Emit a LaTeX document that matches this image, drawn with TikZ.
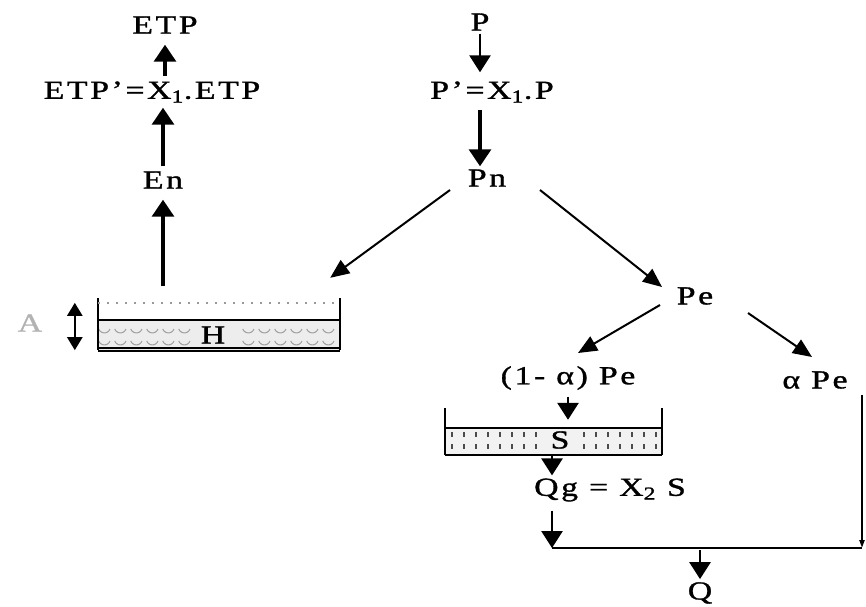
\documentclass[tikz,border=0pt]{standalone}
\usepackage{fontspec}
\setmainfont{Liberation Serif}[FakeStretch=1.3,LetterSpace=10,FakeBold=1.2]
\usetikzlibrary{arrows.meta,calc}

\begin{document}
\begin{tikzpicture}[x=1pt,y=-1pt,
  lbl/.style={font=\fontsize{26}{30}\selectfont, inner sep=3pt},
  vflow/.style={-{Triangle[length=17pt,width=22pt]}, line width=3.2pt},
  sflow/.style={-{Triangle[length=17pt,width=21pt]}, line width=2.8pt},
  dflow/.style={-{Triangle[length=19pt,width=16pt]}, line width=2pt},
  wall/.style={line width=1.4pt},
  bed/.style={line width=2pt},
  wave/.style={gray!75, line width=1pt},
  grain/.style={black!70, line width=1.5pt}]
\useasboundingbox (0,0) rectangle (866,606);

% ---- labels ----
\node[lbl] (ETP)  at (165,25)  {ETP};
\node[lbl] (ETPp) at (152,92)  {ETP'=X\textsubscript{1}.ETP};
\node[lbl] (En)   at (163,180) {En};
\node[lbl] (P)    at (480,22)  {P};
\node[lbl] (Pp)   at (492,92)  {P'=X\textsubscript{1}.P};
\node[lbl] (Pn)   at (487,178) {Pn};
\node[lbl] (Pe)   at (695,296) {Pe};
\node[lbl] (PeA)  at (568,378) {(1- α) Pe};
\node[lbl] (aPe)  at (815,380) {α Pe};
\node[lbl] (Qg)   at (610,490) {Qg = X\textsubscript{2} S};
\node[lbl] (Q)    at (700,593) {Q};
\node[lbl, text=gray!60] (A) at (30,323) {A};

% ---- surface store H ----
\node[inner sep=0pt, minimum width=242pt, minimum height=52pt] (Htank) at (219,324) {};
\fill[gray!14] (98,320) rectangle (340,350);
\foreach \yy in {329,341}
  \foreach \xx in {104,120,...,335}{
    \ifdim\xx pt<190pt \draw[wave] (\xx+6,\yy) arc (20:160:6);\fi
    \ifdim\xx pt>236pt \draw[wave] (\xx+6,\yy) arc (20:160:6);\fi
  }
\draw[wall] (98,298) -- (98,350) (340,298) -- (340,350);
\draw[dash pattern=on 2pt off 7pt, line width=1.5pt, gray!80] (98,303) -- (340,303);
\draw[bed] (98,320) -- (340,320);
\draw[line width=1.3pt] (98,348) -- (340,348) (98,351) -- (340,351);
\node[font=\fontsize{26}{30}\selectfont] (Hlbl) at (213,335) {H};
\draw[{Triangle[length=13pt,width=15pt]}-{Triangle[length=13pt,width=15pt]}, line width=2.4pt]
  ($(Htank.north west)+(-23,5)$) -- ($(Htank.south west)+(-23,0)$);

% ---- groundwater store S ----
\node[inner sep=0pt, minimum width=217pt, minimum height=27pt] (Stank) at (553.5,441.5) {};
\fill[gray!10] (445,428) rectangle (662,455);
\foreach \yy in {432,444}
  \foreach \xx in {452,464,...,657}{
    \ifdim\xx pt<538pt \draw[grain] (\xx,\yy) -- (\xx,\yy+5);\fi
    \ifdim\xx pt>582pt \draw[grain] (\xx,\yy) -- (\xx,\yy+5);\fi
  }
\draw[wall] (445,408) -- (445,455) (662,408) -- (662,455);
\draw[bed] (445,428) -- (662,428);
\draw[line width=1.8pt] (445,455) -- (662,455);
\node[lbl] (Slbl) at (560,440) {S};

% ---- connectors ----
\draw[vflow, shorten <=2pt, shorten >=8pt] (ETPp.north -| ETP) -- (ETP.south);
\draw[vflow, shorten <=2pt, shorten >=2pt] (En.north) -- (ETPp.south -| En);
\draw[vflow, shorten <=12pt, shorten >=8pt] (Htank.north -| En) -- (En.south);
\draw[sflow, shorten >=6pt] (P.south) -- (Pp.north -| P);
\draw[vflow, shorten <=4pt] (Pp.south -| P) -- (Pn.north -| P);
\draw[dflow] ($(Pn.center)+(-37,12)$) -- ($(Htank.north east)+(-10,-20)$);
\draw[dflow] ($(Pn.center)+(53,12)$) -- ($(Pe.center)+(-33,-9)$);
\draw[dflow] ($(Pe.center)+(-35,9)$) -- ($(PeA.center)+(10,-25)$);
\draw[dflow] ($(Pe.center)+(53,17)$) -- ($(aPe.center)+(-3,-23)$);
\draw[sflow, shorten <=4pt, shorten >=8pt] (PeA.south) -- (Stank.north -| PeA);
\coordinate (J) at (552,548);
\coordinate (R) at (862,548);
\draw[sflow] (Stank.south -| J) -- (Qg.north -| J);
\draw[sflow, shorten <=6pt] (Qg.south -| J) -- (J);
\draw[line width=1.4pt] (J) -- (R);
\draw[line width=2pt, -{Triangle[length=8pt,width=5pt]}] ($(aPe.east -| R)+(0,15)$) -- (R);
\draw[sflow, shorten <=2pt] (J -| Q) -- (Q.north);
\end{tikzpicture}
\end{document}
